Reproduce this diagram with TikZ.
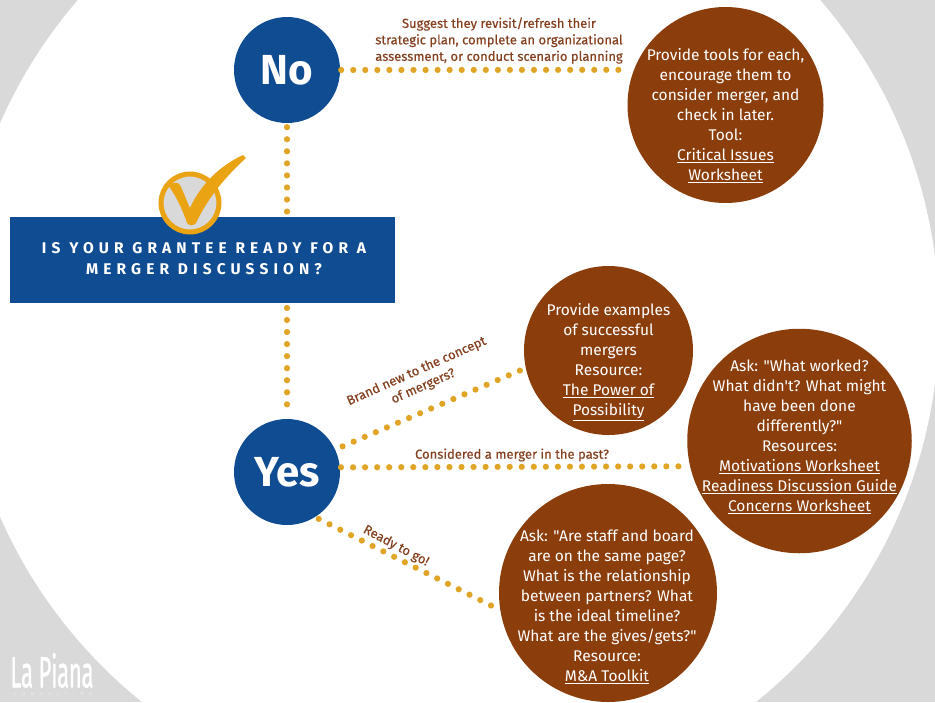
\documentclass[tikz,border=0pt]{standalone}
\usepackage{fontspec}
\newfontfamily\bodyfont{Fira Sans}
\newfontfamily\medfont[FakeBold=0.3]{Fira Sans}
\newfontfamily\titlefont[LetterSpace=33,BoldFont={Fira Sans Bold}]{Fira Sans}
\newfontfamily\logofont[FakeBold=1.2,LetterSpace=-1]{Fira Sans}
\newfontfamily\subfont[LetterSpace=130]{Fira Sans}
\definecolor{bluec}{HTML}{0F4C92}
\definecolor{brownc}{HTML}{8B3E0C}
\definecolor{goldc}{HTML}{E0A526}
\definecolor{checkc}{HTML}{EAA312}
\definecolor{greyc}{HTML}{D9D9D9}
\definecolor{labelc}{HTML}{85401F}
\tikzset{
  x=1pt,y=-1pt,
  bigcirc/.style={circle,fill=bluec,inner sep=0pt,minimum size=106pt},
  browncirc/.style={circle,fill=brownc,inner sep=0pt},
  bodytext/.style={text=white,align=center,inner sep=0pt,font=\fontsize{15.5}{20}\selectfont\bodyfont},
  bigtext/.style={text=white,inner sep=0pt,font=\fontsize{42}{46}\selectfont\bodyfont\bfseries},
  edgelabel/.style={text=labelc,align=center,inner sep=0pt,font=\fontsize{13}{16.5}\selectfont\medfont},
  dotline/.style={draw=goldc,line width=6.2pt,line cap=round,dash pattern=on 0pt off 12.05pt,shorten <=4pt,shorten >=4pt},
}
\begin{document}
\begin{tikzpicture}
\useasboundingbox (0,0) rectangle (935,702);
\begin{scope}
\clip (0,0) rectangle (935,702);
\fill[greyc] (0,0) rectangle (935,702);
\fill[white] (449,320) circle[radius=490];
\end{scope}
% circles
\node[bigcirc] (no) at (287,70) {};
\node[bigcirc] (yes) at (287,472) {};
\node[browncirc,minimum size=196pt] (a) at (725.5,105) {};
\node[browncirc,minimum size=169pt] (b) at (608.5,350.5) {};
\node[browncirc,minimum size=224.5pt] (c) at (799.5,441) {};
\node[browncirc,minimum size=218pt] (d) at (608,593) {};
\node[bigtext] (notext) at (287,70) {No};
\node[bigtext] (yestext) at (287,472) {Yes};
% connectors
\draw[dotline] (no) -- (yes);
\draw[dotline,shorten <=1pt] (no.0) -- (a.159);
\draw[dotline,shorten <=8pt] (yes.25) -- (b.192);
\draw[dotline,shorten <=1pt] (yes.5) -- (c.193.4);
\draw[dotline] (yes.-58) -- (d.189);
% title
\node[fill=bluec,minimum width=385pt,minimum height=86pt,inner sep=0pt] (title) at (202.5,260) {};
\node[text=white,align=center,inner sep=0pt,font=\fontsize{15.5}{21}\selectfont\titlefont\bfseries] (titletext) at (204,258.5) {IS YOUR GRANTEE READY FOR A\\MERGER DISCUSSION?};
% check
\node[circle,draw=checkc,line width=5pt,fill=greyc,minimum size=58pt,inner sep=0pt] (checkring) at (190,203) {};
\fill[checkc] (168,185) .. controls (174,182) and (178,182) .. (180,185) .. controls (184,193) and (187,202) .. (190,208) .. controls (198,190) and (215,168) .. (243,155) -- (246,158) .. controls (222,180) and (207,200) .. (196,223) .. controls (193,226) and (190,226) .. (187,223) .. controls (182,208) and (176,196) .. (168,185) -- cycle;
% body texts
\node[bodytext] (atext) at (725.5,116) {Provide tools for each,\\encourage them to\\consider merger, and\\check in later.\\Tool:\\\underline{Critical Issues}\\\underline{Worksheet}};
\node[bodytext] (btext) at (608.5,362) {Provide examples\\of successful\\mergers\\Resource:\\\underline{The Power of}\\\underline{Possibility}};
\node[bodytext] (ctext) at (799.5,437) {Ask: "What worked?\\What didn't? What might\\have been done\\differently?"\\Resources:\\\underline{Motivations Worksheet}\\\underline{Readiness Discussion Guide}\\\underline{Concerns Worksheet}};
\node[bodytext] (dtext) at (607,606.5) {Ask: "Are staff and board\\are on the same page?\\What is the relationship\\between partners? What\\is the ideal timeline?\\What are the gives/gets?"\\Resource:\\\underline{M\&A Toolkit}};
% edge labels
\node[edgelabel] (lab1) at (499,40.5) {Suggest they revisit/refresh their\\strategic plan, complete an organizational\\assessment, or conduct scenario planning};
\node[edgelabel,rotate=24] (lab2) at (420,379) {Brand new to the concept\\of mergers?};
\node[edgelabel] (lab3) at (512,455) {Considered a merger in the past?};
\node[edgelabel,rotate=-28] (lab4) at (396,546) {Ready to go!};
% logo
\node[text=white,inner sep=0pt,xscale=0.5,font=\fontsize{44}{44}\selectfont\logofont] (logo) at (52,670.5) {La Piana};
\node[text=white!60!greyc,inner sep=0pt,font=\fontsize{4.5}{5}\selectfont\subfont] (logosub) at (53,694) {CONSULTING};
\end{tikzpicture}
\end{document}
